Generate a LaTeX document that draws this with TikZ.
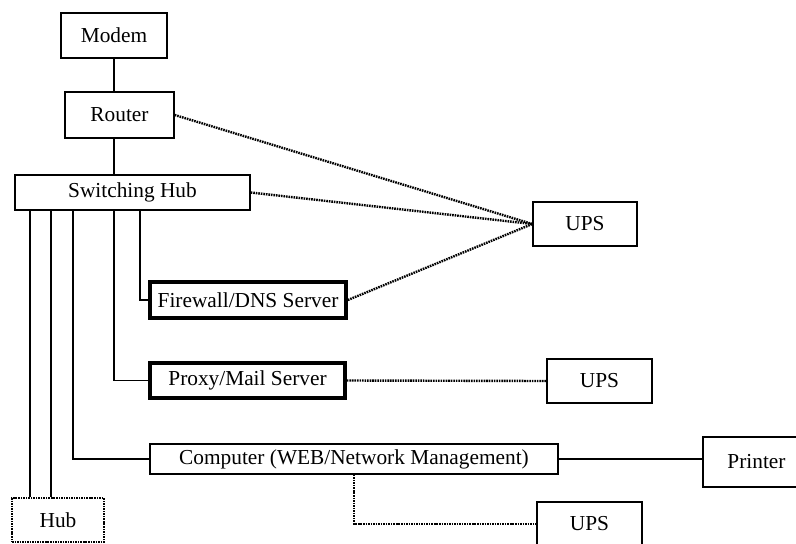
\documentclass[tikz,border=0pt]{standalone}
\usepackage{fontspec}
\setmainfont{Liberation Serif}
\begin{document}
\begin{tikzpicture}[x=0.75pt,y=-0.75pt, font=\fontsize{16}{19}\selectfont,
  box/.style={draw, line width=1.1pt, inner sep=0pt},
  thickbox/.style={box, line width=2.8pt},
  dotbox/.style={box, line width=1.8pt, dash pattern=on 1.2pt off 0.7pt},
  wire/.style={line width=1.1pt},
  dotwire/.style={line width=1.8pt, dash pattern=on 1.2pt off 0.7pt}]
\useasboundingbox (0,0) rectangle (796,543);
\node[box, minimum width=79.5pt, minimum height=33.75pt] (modem) at (114,35.5) {Modem};
\node[box, minimum width=81.75pt, minimum height=34.5pt] (router) at (119.5,115) {Router};
\node[box, minimum width=176.25pt, minimum height=26.25pt] (sh) at (132.5,192.5) {Switching Hub};
\node[thickbox, minimum width=147pt, minimum height=27pt] (fw) at (248,300) {Firewall/DNS Server};
\node[thickbox, minimum width=146.25pt, minimum height=26.25pt] (proxy) at (247.5,380.5) {Proxy/Mail Server};
\node[box, minimum width=306pt, minimum height=22.5pt] (comp) at (354,459) {Computer (WEB/Network Management)};
\node[dotbox, minimum width=69pt, minimum height=33pt] (hub) at (58,520) {Hub};
\node[box, minimum width=78pt, minimum height=33pt] (ups1) at (585,224) {UPS};
\node[box, minimum width=78.75pt, minimum height=33pt] (ups2) at (599.5,381) {UPS};
\node[box, minimum width=78.75pt, minimum height=33pt] (ups3) at (589.5,524) {UPS};
\node[box, minimum width=80.25pt, minimum height=37.5pt] (printer) at (756.5,462) {Printer};
\coordinate (x1) at (30,0);
\coordinate (x2) at (51,0);
\coordinate (x3) at (73,0);
\coordinate (x4) at (114,0);
\coordinate (x5) at (140,0);
\draw[wire] (modem.south) -- (modem.south |- router.north);
\draw[wire] (modem.south |- router.south) -- (modem.south |- sh.north);
\draw[wire] (x1 |- sh.south) -- (x1 |- hub.north);
\draw[wire] (x2 |- sh.south) -- (x2 |- hub.north);
\draw[wire] (x3 |- sh.south) |- (comp.west);
\draw[wire] (x4 |- sh.south) |- (proxy.west);
\draw[wire] (x5 |- sh.south) |- (fw.west);
\draw[wire] (comp.east) -- (comp.east -| printer.west);
\draw[dotwire] (router.east) -- (ups1.west);
\draw[dotwire] (sh.east) -- (ups1.west);
\draw[dotwire] (fw.east) -- (ups1.west);
\draw[dotwire] (proxy.east) -- (ups2.west);
\draw[dotwire] (comp.south) |- (ups3.west);
\end{tikzpicture}
\end{document}
